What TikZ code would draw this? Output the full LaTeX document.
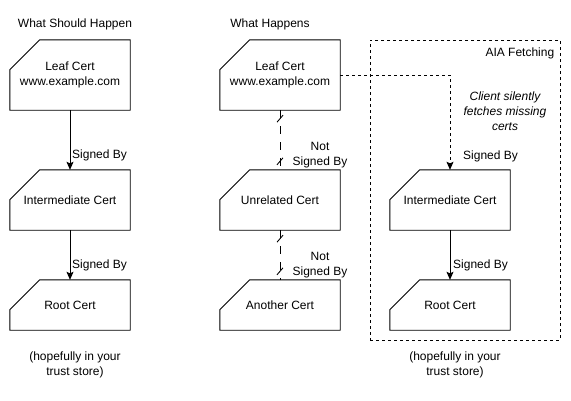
\documentclass[tikz,border=0pt]{standalone}
\usepackage{fontspec}
\setmainfont{Liberation Sans}
\usetikzlibrary{calc,arrows.meta}
\tikzset{
  certtext/.style={minimum width=120pt, inner sep=0pt, align=center, font=\fontsize{12}{15}\selectfont},
  certline/.style={draw=black, line width=0.9pt, fill=white},
  txt/.style={inner sep=0pt, align=center, font=\fontsize{12}{15}\selectfont},
  signed/.style={-{Stealth[length=8pt,width=7pt,inset=1.5pt]}, line width=0.9pt},
  notsigned/.style={line width=0.9pt, dash pattern=on 8pt off 8pt},
  slash/.style={line width=0.9pt},
  aiabox/.style={draw, line width=0.9pt, dash pattern=on 3pt off 3pt, minimum width=190pt, minimum height=300pt, inner sep=0pt},
  aiaarrow/.style={line width=0.9pt, dash pattern=on 3pt off 3pt, -{Stealth[length=8pt,width=7pt,inset=1.5pt]}}
}
\newcommand\certbox[5]{%
  \node[certtext, minimum height=#4] (#1) at (#2,#3) {};
  \draw[certline] (#1.south west) -- ($(#1.north west)+(0,30)$) -- ($(#1.north west)+(30,0)$) -- (#1.north east) -- (#1.south east) -- cycle;
  \node[txt] at (#1.center) {#5};
}
\begin{document}
\begin{tikzpicture}[x=1pt,y=-1pt]
\useasboundingbox (0,0) rectangle (571,400);
% container
\node[aiabox] (aia) at (465,190) {};
\node[txt, anchor=east] (aialabel) at ($(aia.north east)+(-6,14)$) {AIA Fetching};

% headers
\node[txt] (h1) at (75,24) {What Should Happen};
\node[txt] (h2) at (270,24) {What Happens};

% left column
\certbox{leafA}{70}{75}{70}{Leaf Cert\\www.example.com}
\certbox{interA}{70}{200}{60}{Intermediate Cert}
\certbox{rootA}{70}{305}{50}{Root Cert}
\draw[signed] (leafA.south) -- (interA.north);
\draw[signed] (interA.south) -- (rootA.north);
\node[txt, anchor=west] (sA1) at (72,155) {Signed By};
\node[txt, anchor=west] (sA2) at (72,265) {Signed By};
\node[txt] (trustA) at (75,365) {(hopefully in your\\trust store)};

% middle column
\certbox{leafB}{280}{75}{70}{Leaf Cert\\www.example.com}
\certbox{unrelB}{280}{200}{60}{Unrelated Cert}
\certbox{anothB}{280}{305}{50}{Another Cert}
\draw[notsigned] (leafB.south) -- (unrelB.north);
\draw[notsigned] (unrelB.south) -- (anothB.north);
\draw[slash] ($(leafB.south)+(-3,12)$) -- ($(leafB.south)+(3,5)$);
\draw[slash] ($(unrelB.north)+(-3,-5)$) -- ($(unrelB.north)+(3,-12)$);
\draw[slash] ($(unrelB.south)+(-3,12)$) -- ($(unrelB.south)+(3,5)$);
\draw[slash] ($(anothB.north)+(-3,-5)$) -- ($(anothB.north)+(3,-12)$);
\node[txt] (nsB1) at (320,155) {Not\\Signed By};
\node[txt] (nsB2) at (320,265) {Not\\Signed By};

% right column
\certbox{interC}{450}{200}{60}{Intermediate Cert}
\certbox{rootC}{450}{305}{50}{Root Cert}
\draw[signed] (interC.south) -- (rootC.north);
\node[txt, anchor=west] (sC2) at (453,265) {Signed By};
\node[txt, anchor=west] (sC1) at (463,156) {Signed By};
\coordinate (bend) at (450,75);
\draw[aiaarrow] (leafB.east) -- (bend) -- (interC.north);
\node[txt, font=\fontsize{12}{15}\selectfont\itshape] (client) at (505,111) {Client silently\\fetches missing\\certs};
\node[txt] (trustC) at (455,365) {(hopefully in your\\trust store)};
\end{tikzpicture}
\end{document}
